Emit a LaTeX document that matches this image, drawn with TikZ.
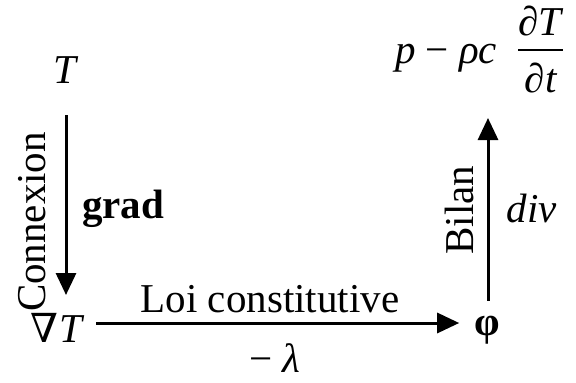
\documentclass[tikz,border=0pt]{standalone}
\usepackage{fontspec}
\setmainfont{Liberation Serif}
\newfontfamily\symfont{DejaVu Serif}
\usetikzlibrary{arrows.meta}
\begin{document}
\begin{tikzpicture}[x=1pt,y=-1pt,
  font=\fontsize{41}{49}\selectfont,
  arr/.style={line width=3pt,-{Triangle[width=20pt,length=22pt]}},
  lbl/.style={inner sep=0pt,outer sep=0pt}]
\useasboundingbox (0,0) rectangle (576,383);
% nodes
\node[lbl,anchor=base] (T) at (66,83) {\textit{T}};
\node[lbl,anchor=base] (gT) at (58,342) {{\symfont\fontsize{40}{46}\selectfont ∇}\kern1pt\textit{T}};
\node[lbl] (phi) at (487,330) {\textbf{φ}};
\node[lbl,anchor=base west] (pr) at (395,63) {\textit{p} − \textit{ρc}};
\node[lbl,anchor=base] (num) at (541,35) {\textit{∂T}};
\node[lbl,anchor=base] (den) at (541,92) {\textit{∂t}};
\draw[line width=2pt] (518,50) -- (563,50);
% labels
\node[lbl,rotate=90] (cx) at (32,222) {Connexion};
\node[lbl,anchor=base] (gr) at (123,218) {\textbf{grad}};
\node[lbl,anchor=base] (lc) at (270,312) {Loi constitutive};
\node[lbl,anchor=base] (lam) at (275,372) {− \textit{λ}};
\node[lbl,rotate=90] (bl) at (459,210) {Bilan};
\node[lbl,anchor=base] (dv) at (532,222) {\textit{div}};
% connectors
\coordinate (r2) at (488,118);
\coordinate (l1) at (66,115);
\coordinate (l2) at (66,295);
\coordinate (h1) at (96,323);
\draw[arr] (l1) -- (l2);
\draw[arr,shorten >=15pt] (h1) -- (phi.west |- h1);
\draw[arr,shorten <=15pt] (phi.north -| r2) -- (r2);
\end{tikzpicture}
\end{document}
